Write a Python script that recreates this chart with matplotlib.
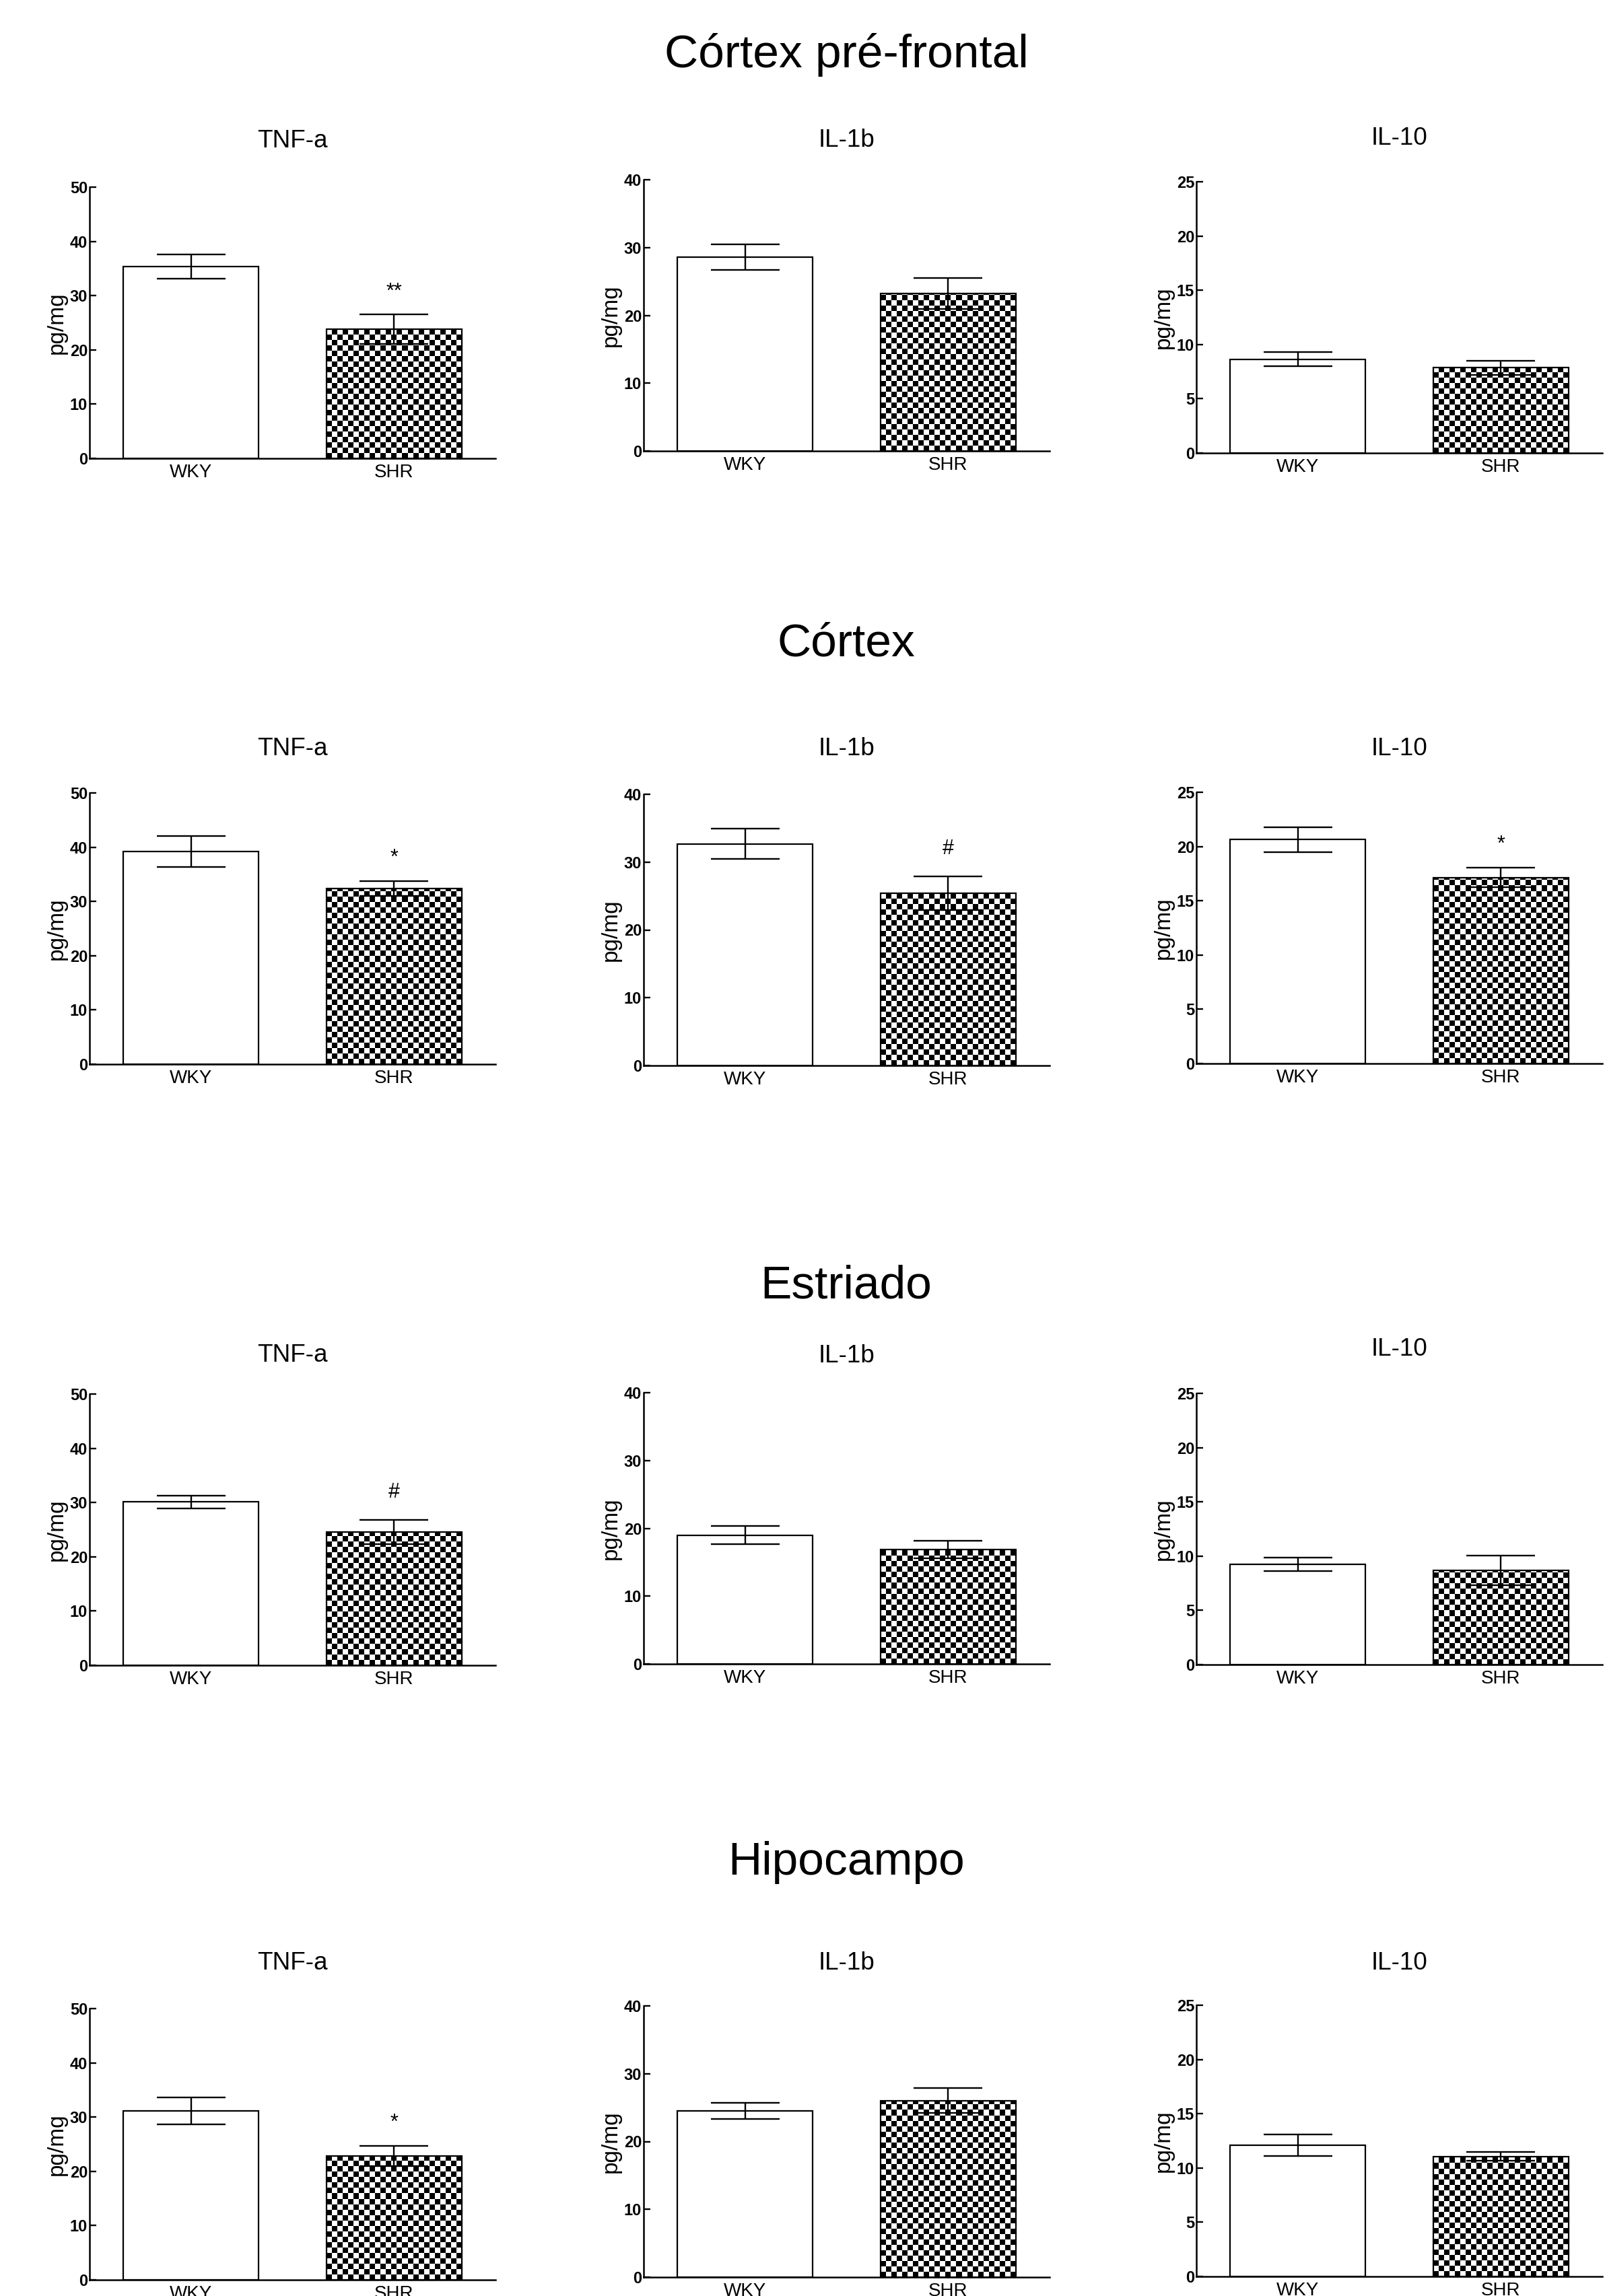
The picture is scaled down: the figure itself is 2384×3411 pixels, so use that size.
import numpy as np
import matplotlib
matplotlib.use("Agg")
import matplotlib.pyplot as plt

plt.rcParams['font.family'] = ['Liberation Sans', 'DejaVu Sans']

# donnees
regions = ["Córtex pré-frontal", "Córtex", "Estriado", "Hipocampo"]
cytokines = ["TNF-a", "IL-1b", "IL-10"]
groups = ["WKY", "SHR"]
y_max = [50, 40, 25]
y_step = [10, 10, 5]

wky_mean = [[35.4, 28.6, 8.65], [39.2, 32.7, 20.65], [30.1, 19.0, 9.25], [31.15, 24.5, 12.1]]
wky_sem = [[2.25, 1.9, 0.65], [2.85, 2.25, 1.15], [1.15, 1.3, 0.63], [2.45, 1.2, 1.0]]
shr_mean = [[23.8, 23.2, 7.86], [32.4, 25.4, 17.15], [24.55, 16.9, 8.69], [22.86, 26.05, 11.07]]
shr_sem = [[2.7, 2.3, 0.64], [1.4, 2.5, 0.9], [2.25, 1.27, 1.38], [1.87, 1.85, 0.41]]
marks = [["**", "", ""], ["*", "#", "*"], ["#", "", ""], ["*", "", ""]]

# mise en page (pixels de l'image finale)
W, H, DPI = 2384, 3411, 200
col_left = [133, 956, 1777]
ax_w, ax_h = 603, 403
zero_y = [[681, 670, 673], [1581, 1583, 1580], [2474, 2472, 2473], [3387, 3383, 3382]]
title_base = [[219, 218, 215], [1122, 1122, 1122], [2023, 2024, 2014], [2926, 2926, 2926]]
region_base = [100, 975, 1928, 2785]
SQ = 8  # taille d'une case du damier, en pixels


def damier(ax, bar):
    x0 = bar.get_x()
    x1 = x0 + bar.get_width()
    h = bar.get_height()
    (px0, py0), (px1, py1) = ax.transData.transform([(x0, 0), (x1, h)])
    nx = int(np.ceil((px1 - px0) / SQ))
    ny = int(np.ceil((py1 - py0) / SQ))
    ex1, ey1 = ax.transData.inverted().transform((px0 + nx * SQ, py0 + ny * SQ))
    board = np.indices((ny, nx)).sum(axis=0) % 2
    im = ax.imshow(board, cmap="gray", origin="lower", extent=(x0, ex1, 0, ey1),
                   aspect="auto", interpolation="nearest", zorder=2, vmin=0, vmax=1)
    im.set_clip_path(bar)


def panneau(fig, r, c):
    left = col_left[c] / W
    bottom = 1 - zero_y[r][c] / H
    ax = fig.add_axes([left, bottom, ax_w / W, ax_h / H])
    ax.set_xlim(-0.5, 1.5)
    ax.set_ylim(0, y_max[c])

    x = np.arange(len(groups))
    means = [wky_mean[r][c], shr_mean[r][c]]
    sems = [wky_sem[r][c], shr_sem[r][c]]
    bars = ax.bar(x, means, width=0.667, color=["white", "none"],
                  edgecolor="black", linewidth=0.8, zorder=3)
    damier(ax, bars[1])
    ax.set_xlim(-0.5, 1.5)
    ax.set_ylim(0, y_max[c])

    ax.errorbar(x, means, yerr=sems, fmt="none", ecolor="black",
                elinewidth=0.85, capsize=18.4, capthick=0.85, zorder=4)

    if marks[r][c]:
        dy = 34 if "*" in marks[r][c] else 41
        ax.annotate(marks[r][c], (1, means[1] + sems[1]), xytext=(0, dy),
                    textcoords="offset pixels", ha="center", va="center",
                    fontsize=11)

    for s in ["top", "right"]:
        ax.spines[s].set_visible(False)
    for s in ["left", "bottom"]:
        ax.spines[s].set_linewidth(0.9)

    ticks = np.arange(0, y_max[c] + 1, y_step[c])
    ax.set_yticks(ticks)
    ax.set_yticklabels([str(t) for t in ticks], fontweight="bold", fontsize=8.5)
    ax.tick_params(axis="y", direction="in", length=3.6, width=0.85, pad=1)
    ax.set_xticks(x)
    ax.set_xticklabels(groups, fontsize=10)
    ax.tick_params(axis="x", length=0, pad=3)

    ax.set_ylabel("pg/mg", fontsize=12, va="center")
    ax.yaxis.set_label_coords(-0.081, 0.5)

    fig.text((col_left[c] + ax_w / 2) / W, 1 - title_base[r][c] / H, cytokines[c],
             ha="center", va="baseline", fontsize=13.3)


if __name__ == "__main__":
    fig = plt.figure(figsize=(W / DPI, H / DPI), dpi=DPI)
    for r in range(len(regions)):
        fig.text(1257 / W, 1 - region_base[r] / H, regions[r], ha="center",
                 va="baseline", fontsize=25)
        for c in range(len(cytokines)):
            panneau(fig, r, c)
    fig.savefig("out.png", dpi=DPI, facecolor="white")
